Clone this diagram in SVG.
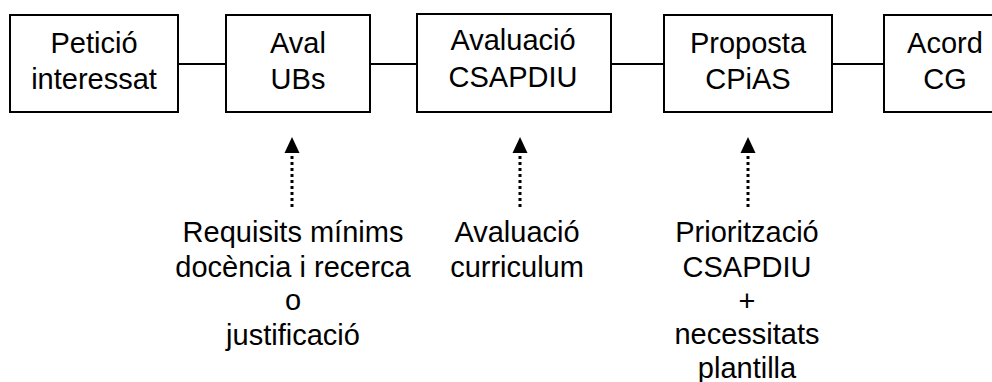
<svg xmlns="http://www.w3.org/2000/svg" width="992" height="382" viewBox="0 0 992 382">
<style>
.box{fill:#fff;stroke:#000;stroke-width:2}
.t{font-family:"Liberation Sans",Arial,sans-serif;font-size:29px;fill:#000;text-anchor:middle}
.con{stroke:#000;stroke-width:2;fill:none}
.dot{stroke:#000;stroke-width:3;stroke-dasharray:3 3;fill:none}
</style>
<defs>
<marker id="ah" viewBox="0 0 15 16" refX="7.5" refY="0" markerWidth="15" markerHeight="16" markerUnits="userSpaceOnUse" orient="auto-start-reverse">
<path d="M7.5 0 L15 16 L0 16 Z" fill="#000"/>
</marker>
</defs>
<rect width="992" height="382" fill="#fff"/>
<g id="connectors">
<line class="con" x1="178" y1="64" x2="226" y2="64"/>
<line class="con" x1="370" y1="64" x2="417" y2="64"/>
<line class="con" x1="611" y1="64" x2="664" y2="64"/>
<line class="con" x1="832" y1="64" x2="884" y2="64"/>
<line class="dot" x1="292" y1="207" x2="292" y2="155"/>
<path d="M292 137 L299.5 153 L284.5 153 Z" fill="#000"/>
<line class="dot" x1="520" y1="207" x2="520" y2="155"/>
<path d="M520 137 L527.5 153 L512.5 153 Z" fill="#000"/>
<line class="dot" x1="748" y1="207" x2="748" y2="155"/>
<path d="M748 137 L755.5 153 L740.5 153 Z" fill="#000"/>
</g>
<g id="n1">
<rect class="box" x="10" y="15" width="168" height="97"/>
<text class="t" x="94" y="53">Petició</text>
<text class="t" x="94" y="89">interessat</text>
</g>
<g id="n2">
<rect class="box" x="226" y="15" width="144" height="97"/>
<text class="t" x="298" y="53">Aval</text>
<text class="t" x="298" y="89">UBs</text>
</g>
<g id="n3">
<rect class="box" x="417" y="14" width="194" height="98"/>
<text class="t" x="513" y="50">Avaluació</text>
<text class="t" x="513" y="87">CSAPDIU</text>
</g>
<g id="n4">
<rect class="box" x="664" y="15" width="168" height="97"/>
<text class="t" x="748" y="53">Proposta</text>
<text class="t" x="748" y="89">CPiAS</text>
</g>
<g id="n5">
<rect class="box" x="884" y="15" width="122" height="97"/>
<text class="t" x="945" y="53">Acord</text>
<text class="t" x="945" y="89">CG</text>
</g>
<g id="l1">
<text class="t" x="293" y="242">Requisits mínims</text>
<text class="t" x="293" y="277">docència i recerca</text>
<text class="t" x="293" y="310">o</text>
<text class="t" x="293" y="345">justificació</text>
</g>
<g id="l2">
<text class="t" x="517" y="242">Avaluació</text>
<text class="t" x="517" y="277">curriculum</text>
</g>
<g id="l3">
<text class="t" x="747" y="242">Priorització</text>
<text class="t" x="747" y="277">CSAPDIU</text>
<text class="t" x="747" y="311">+</text>
<text class="t" x="747" y="344">necessitats</text>
<text class="t" x="747" y="378">plantilla</text>
</g>
</svg>
